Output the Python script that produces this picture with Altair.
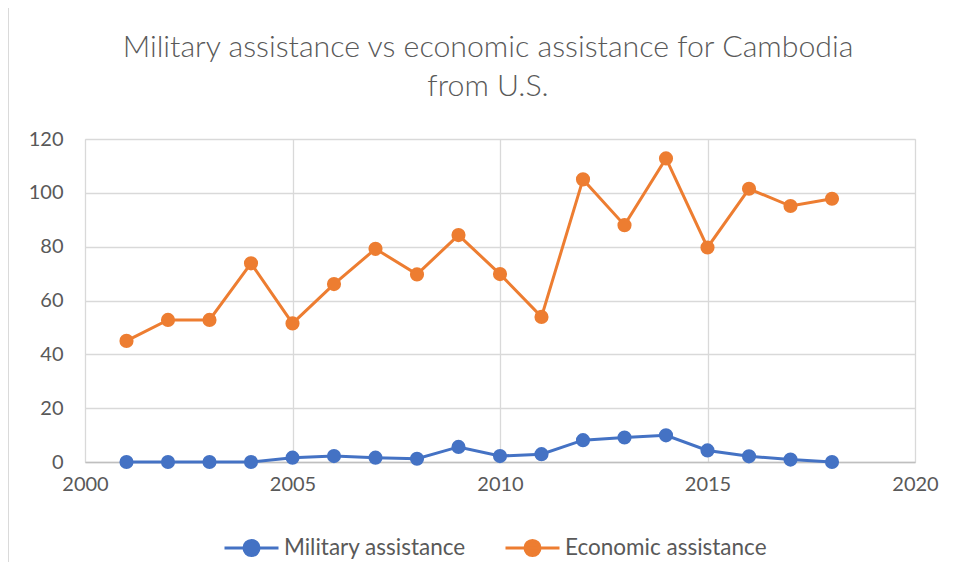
import altair as alt
import pandas as pd

years = list(range(2001, 2019))
military = [0, 0, 0, 0, 1.6, 2.2, 1.6, 1.2, 5.6, 2.2, 2.9, 8.1, 9.1, 9.9, 4.3, 2.1, 0.9, 0]
economic = [45.0, 52.8, 52.8, 73.8, 51.5, 66.1, 79.2, 69.7, 84.3, 69.8, 53.9, 105.0, 88.0, 112.8, 79.7, 101.5, 95.1, 97.8]
series_names = ["Military assistance", "Economic assistance"]
series_colors = ["#4472C4", "#ED7D31"]
x_ticks = [2000, 2005, 2010, 2015, 2020]
y_ticks = [0, 20, 40, 60, 80, 100, 120]

rows = []
for y, m, e in zip(years, military, economic):
    rows.append({"Year": y, "Series": series_names[0], "Value": m})
    rows.append({"Year": y, "Series": series_names[1], "Value": e})
df = pd.DataFrame(rows)

FONT = "Lato"
TXT = "#595959"
sym_path = "M-1,0H1M-0.28,0A0.28,0.28 0 1,0 0.28,0A0.28,0.28 0 1,0 -0.28,0Z"

color = alt.Color(
    "Series:N",
    scale=alt.Scale(domain=series_names, range=series_colors),
    legend=alt.Legend(
        title=None,
        orient="none",
        direction="horizontal",
        legendX=138,
        legendY=380,
        symbolType=sym_path,
        symbolSize=2916,
        symbolStrokeWidth=3,
        labelFont=FONT,
        labelFontSize=22.5,
        labelColor=TXT,
        labelOffset=4,
        labelLimit=400,
        columnPadding=33,
    ),
)

x = alt.X(
    "Year:Q",
    scale=alt.Scale(domain=[2000, 2020], nice=False, zero=False),
    axis=alt.Axis(
        title=None, values=x_ticks, format="d", ticks=False, labelFlush=False,
        labelFont=FONT, labelFontSize=20, labelColor=TXT, labelPadding=12,
        domainColor="#bfbfbf", domainWidth=1.5,
        grid=True, gridColor="#d9d9d9", gridWidth=1.3,
    ),
)
yenc = alt.Y(
    "Value:Q",
    scale=alt.Scale(domain=[0, 120], nice=False),
    axis=alt.Axis(
        title=None, values=y_ticks, ticks=False, domain=False, labelFlush=False,
        labelFont=FONT, labelFontSize=20, labelColor=TXT, labelPadding=22,
        grid=True, gridColor="#d9d9d9", gridWidth=1.3,
    ),
)

base = alt.Chart(df)
lines = base.mark_line(strokeWidth=3).encode(x=x, y=yenc, color=color, detail="Series:N")
points = base.mark_point(filled=True, size=200, opacity=1, shape="circle").encode(x=x, y=yenc, color=color)

frame_v = alt.Chart(df).mark_rule(color="#d9d9d9", strokeWidth=1).encode(
    x=alt.value(-77), y=alt.value(-132), y2=alt.value(450)
)
frame_h = alt.Chart(df).mark_rule(color="#d9d9d9", strokeWidth=1).encode(
    x=alt.value(-77), x2=alt.value(880), y=alt.value(-132)
)

chart = alt.layer(frame_v, frame_h, lines, points).properties(
    width=830,
    height=323,
    autosize=alt.AutoSizeParams(type="none"),
    padding={"left": 77, "top": 131, "right": 30, "bottom": 100},
    title=alt.Title(
        ["Military assistance vs economic assistance for Cambodia", "from U.S."],
        font=FONT, fontSize=30.3, fontWeight=300, color=TXT,
        anchor="middle", offset=32, lineHeight=39, dy=128, dx=-12,
    ),
).configure_view(stroke=None).configure(background="white")

chart.save("out.html", embed_options={"renderer": "svg", "actions": False})
